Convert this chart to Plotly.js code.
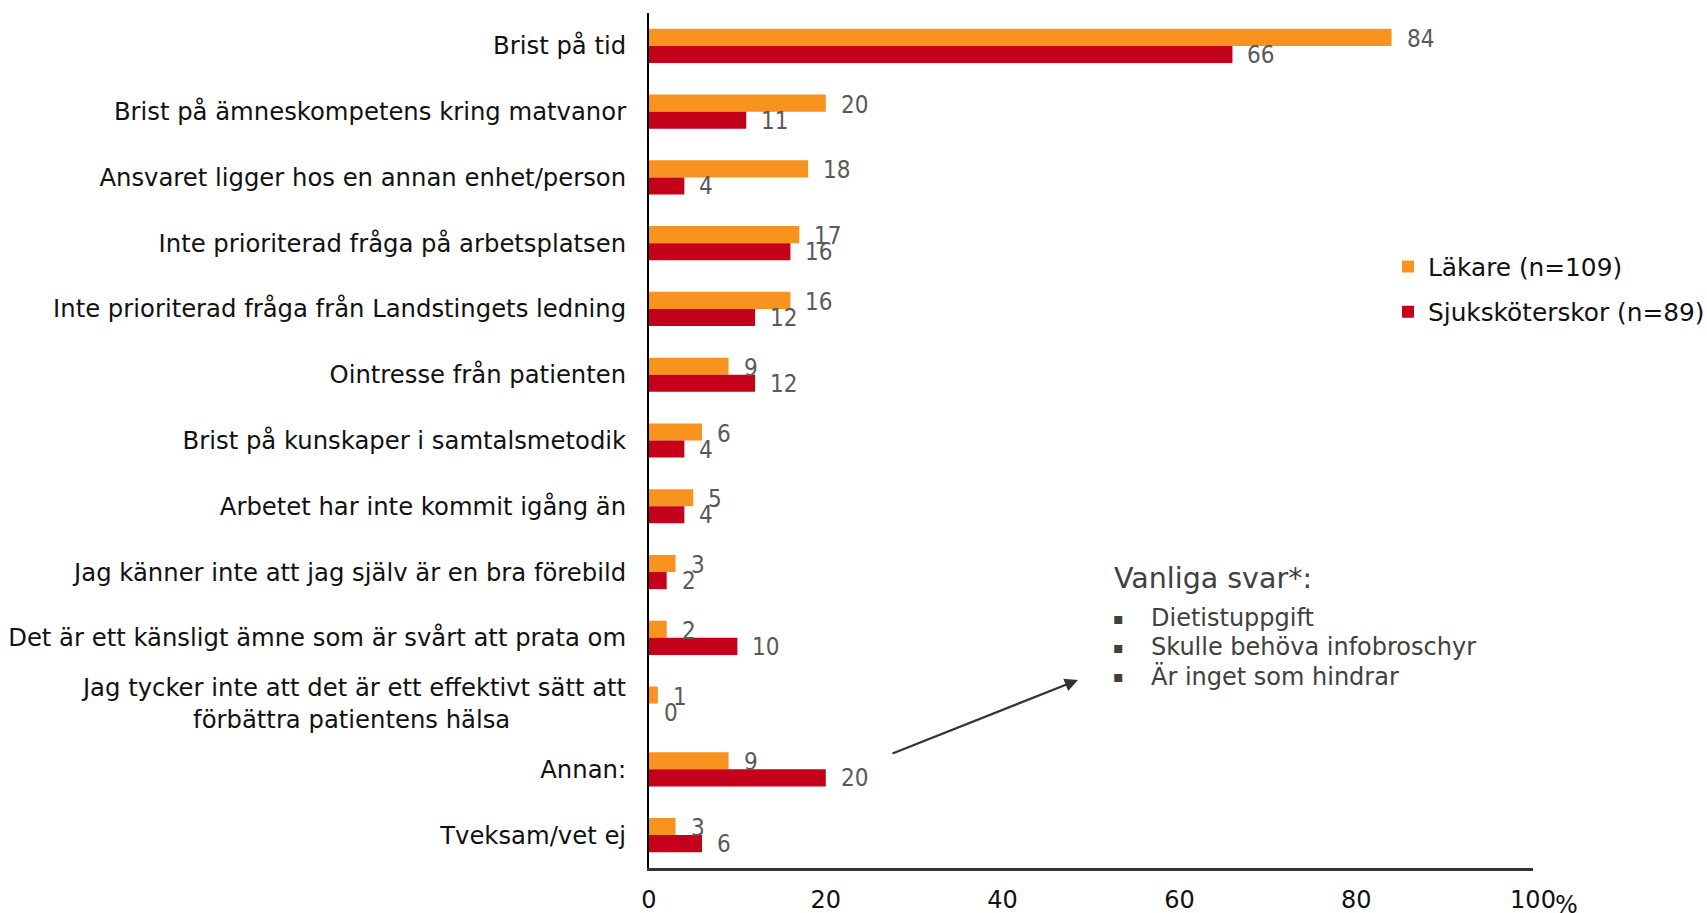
<!DOCTYPE html>
<html>
<head>
<meta charset="utf-8">
<script src="https://cdn.plot.ly/plotly-3.0.1.min.js"></script>
<style>html,body{margin:0;padding:0;background:#fff;}#chart{width:1707px;height:913px;}</style>
</head>
<body>
<div id="chart"></div>
<script>
const categories = [
  "Brist på tid",
  "Brist på ämneskompetens kring matvanor",
  "Ansvaret ligger hos en annan enhet/person",
  "Inte prioriterad fråga på arbetsplatsen",
  "Inte prioriterad fråga från Landstingets ledning",
  "Ointresse från patienten",
  "Brist på kunskaper i samtalsmetodik",
  "Arbetet har inte kommit igång än",
  "Jag känner inte att jag själv är en bra förebild",
  "Det är ett känsligt ämne som är svårt att prata om",
  "Jag tycker inte att det är ett effektivt sätt att<br>förbättra patientens hälsa" + "\u00a0".repeat(15),
  "Annan:",
  "Tveksam/vet ej"
];
const lakare = [84, 20, 18, 17, 16, 9, 6, 5, 3, 2, 1, 9, 3];
const sjukskoterskor = [66, 11, 4, 16, 12, 12, 4, 4, 2, 10, 0, 20, 6];
const seriesNames = ["Läkare (n=109)", "Sjuksköterskor (n=89)"];
const xTickVals = [0, 20, 40, 60, 80, 100];
const xTickText = ["0", "20", "40", "60", "80", "100"];
const xUnit = "%";
const noteTitle = "Vanliga svar*:";
const noteItems = ["Dietistuppgift", "Skulle behöva infobroschyr", "Är inget som hindrar"];

const ORANGE = "#F7931E";
const RED = "#C4001A";
const numFont = {family: "'Liberation Sans Narrow', 'DejaVu Sans Condensed', sans-serif", size: 24, color: "#595959"};
const tickFamily = "'DejaVu Sans', Verdana, sans-serif";

const traces = [
  {type: "bar", orientation: "h", name: seriesNames[0], y: categories, x: lakare,
   marker: {color: ORANGE}, legendgroup: "a", hoverinfo: "x"},
  {type: "bar", orientation: "h", name: seriesNames[1], y: categories, x: sjukskoterskor,
   marker: {color: RED}, legendgroup: "b", hoverinfo: "x"}
];

const annotations = [];
categories.forEach((c, i) => {
  annotations.push({x: lakare[i], y: c, xref: "x", yref: "y", text: String(lakare[i]),
    showarrow: false, xanchor: "left", yanchor: "middle", xshift: 13, yshift: 7, font: numFont});
  annotations.push({x: sjukskoterskor[i], y: c, xref: "x", yref: "y", text: String(sjukskoterskor[i]),
    showarrow: false, xanchor: "left", yanchor: "middle", xshift: 13, yshift: -9, font: numFont});
});

// unit sign next to the last x tick label
annotations.push({x: xTickVals[xTickVals.length - 1], y: 0, xref: "x", yref: "paper", text: xUnit,
  showarrow: false, xanchor: "left", yanchor: "middle", xshift: 20, yshift: -37,
  font: {family: tickFamily, size: 24, color: "#111"}});

const noteFont = {family: "'DejaVu Sans', Verdana, sans-serif", size: 24, color: "#404040"};
annotations.push({xref: "paper", yref: "paper", x: (1112 - 649) / 884, y: 0.339, xanchor: "left", yanchor: "middle",
  text: noteTitle, showarrow: false, font: {family: noteFont.family, size: 28.5, color: "#404040"}});
noteItems.forEach((t, i) => {
  const yy = 0.339 - (40 + i * 29) / 855;
  annotations.push({xref: "paper", yref: "paper", x: (1118 - 649) / 884, y: yy, xanchor: "center", yanchor: "middle",
    text: "\u25aa", showarrow: false, font: {family: noteFont.family, size: 16, color: "#404040"}});
  annotations.push({xref: "paper", yref: "paper", x: (1149 - 649) / 884, y: yy, xanchor: "left", yanchor: "middle",
    text: t, showarrow: false, font: noteFont});
});
annotations.push({xref: "paper", yref: "paper", x: (1078 - 649) / 884, y: 1 - (680 - 13) / 855,
  ax: -187, ay: 74, text: "", showarrow: true, arrowhead: 2, arrowsize: 1.2, arrowwidth: 2.2, arrowcolor: "#333"});

const layout = {
  width: 1707, height: 913,
  margin: {l: 649, r: 174, t: 13, b: 45, pad: 0, autoexpand: false},
  paper_bgcolor: "#fff", plot_bgcolor: "#fff",
  barmode: "group", bargap: 0.48, bargroupgap: 0,
  showlegend: true,
  legend: {x: (1388 - 649) / 884, y: 0.73, xanchor: "left", yanchor: "top",
    font: {family: "'DejaVu Sans', Verdana, sans-serif", size: 24.8, color: "#111"},
    traceorder: "grouped", tracegroupgap: 10, bgcolor: "rgba(0,0,0,0)"},
  xaxis: {range: [0, 100], tickvals: xTickVals, ticktext: xTickText, showgrid: false, zeroline: false,
    showline: true, linecolor: "#333", linewidth: 3, ticks: "", ticklabelstandoff: 8,
    tickfont: {family: tickFamily, size: 24, color: "#111"},
    fixedrange: true},
  yaxis: {autorange: "reversed", showgrid: false, zeroline: false, showline: true, linecolor: "#000", linewidth: 2,
    ticks: "", ticklabelstandoff: 16,
    tickfont: {family: tickFamily, size: 24.3, color: "#111"}, fixedrange: true},
  annotations: annotations
};

Plotly.newPlot("chart", traces, layout, {displayModeBar: false, staticPlot: true});
</script>
</body>
</html>
